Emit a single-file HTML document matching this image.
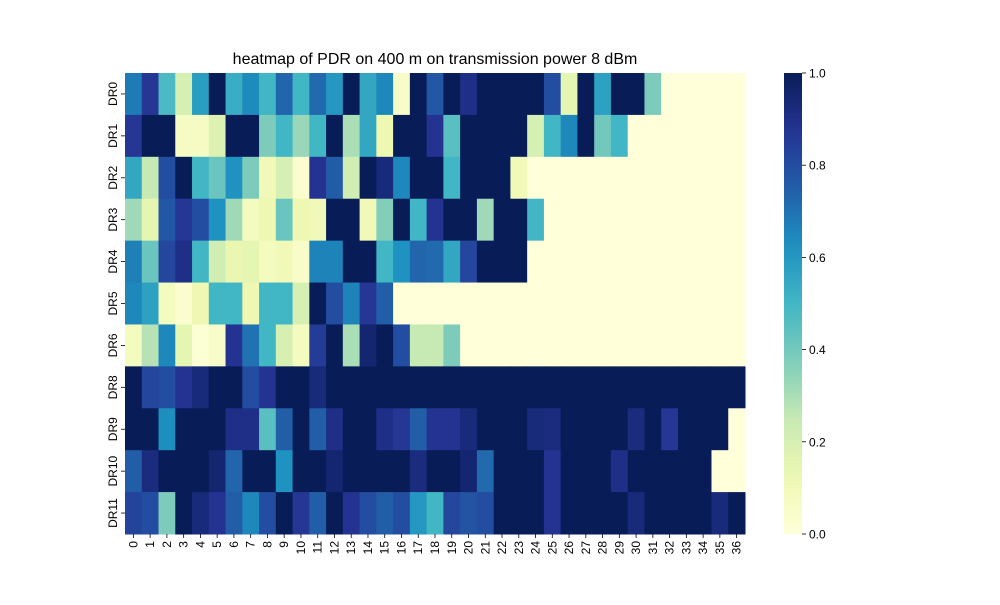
<!DOCTYPE html>
<html><head><meta charset="utf-8"><style>
body{margin:0;background:#fff;font-family:"Liberation Sans","DejaVu Sans",sans-serif;}
svg text{font-family:"Liberation Sans","DejaVu Sans",sans-serif;}
</style></head><body>
<svg id="chart" width="1000" height="600" viewBox="0 0 1000 600" xmlns="http://www.w3.org/2000/svg">
<rect width="1000" height="600" fill="#fff"/>
<text x="435" y="64" text-anchor="middle" font-size="16" fill="#000">heatmap of PDR on 400 m on transmission power 8 dBm</text>
<g id="cells"></g>
<g id="xaxis"></g>
<g id="yaxis"></g>
<defs><linearGradient id="cbg" x1="0" y1="1" x2="0" y2="0"></linearGradient></defs>
<rect x="784" y="73" width="18" height="461" fill="url(#cbg)"/>
<g id="cbaxis"></g>
</svg>
<script>
const rowLabels=["DR0","DR1","DR2","DR3","DR4","DR5","DR6","DR8","DR9","DR10","DR11"];
const colLabels=Array.from({length:37},(_,i)=>String(i));
const cbTicks=[0,0.2,0.4,0.6,0.8,1.0];
const rDR0=[0.68,0.87,0.48,0.2,0.58,1,0.53,0.64,0.5,0.73,0.5,0.72,0.6,1,0.55,0.65,0.05,1,0.77,1,0.9,1,1,1,1,0.8,0.15,1,0.57,1,1,0.38,0,0,0,0,0];
const rDR1=[0.87,1,1,0.07,0.07,0.18,1,1,0.38,0.5,0.33,0.5,1,0.3,0.55,0.12,1,1,0.88,0.45,1,1,1,1,0.2,0.5,0.65,1,0.4,0.5,0,0,0,0,0,0,0];
const rDR2=[0.55,0.25,0.8,1,0.5,0.42,0.62,0.38,0.1,0.2,0.03,0.88,0.76,0.22,1,0.93,0.65,1,1,0.5,1,1,1,0.1,0,0,0,0,0,0,0,0,0,0,0,0,0];
const rDR3=[0.32,0.15,0.77,0.87,0.8,0.62,0.32,0.08,0.12,0.42,0.12,0.1,1,1,0.1,0.37,1,0.5,0.88,1,1,0.32,1,1,0.5,0,0,0,0,0,0,0,0,0,0,0,0];
const rDR4=[0.67,0.42,0.82,0.9,0.5,0.22,0.13,0.15,0.08,0.1,0.05,0.66,0.66,1,1,0.5,0.62,0.73,0.72,0.55,0.82,1,1,1,0,0,0,0,0,0,0,0,0,0,0,0,0];
const rDR5=[0.65,0.57,0.08,0.03,0.12,0.5,0.5,0.12,0.5,0.5,0.2,1,0.8,0.66,0.87,0.75,0,0,0,0,0,0,0,0,0,0,0,0,0,0,0,0,0,0,0,0,0];
const rDR6=[0.08,0.28,0.65,0.15,0.02,0.05,0.88,0.7,0.5,0.2,0.08,0.85,1,0.3,0.95,1,0.8,0.25,0.25,0.38,0,0,0,0,0,0,0,0,0,0,0,0,0,0,0,0,0];
const rDR8=[1,0.82,0.8,0.88,0.93,1,1,0.8,0.88,1,1,0.93,1,1,1,1,1,1,1,1,1,1,1,1,1,1,1,1,1,1,1,1,1,1,1,1,1];
const rDR9=[1,1,0.63,1,1,1,0.9,0.9,0.45,0.75,1,0.75,0.9,1,1,0.9,0.87,0.75,0.88,0.88,0.93,1,1,1,0.93,0.92,1,1,1,1,0.92,1,0.87,1,1,1,0];
const rDR10=[0.75,0.92,1,1,1,0.95,0.73,1,1,0.62,1,1,0.95,1,1,1,1,0.92,1,1,0.95,0.72,1,1,1,0.88,1,1,1,0.9,1,1,1,1,1,0,0];
const rDR11=[0.83,0.8,0.38,1,0.93,0.88,0.75,0.65,0.8,1,0.87,0.75,1,0.88,0.8,0.75,0.8,0.6,0.5,0.82,0.78,0.8,1,1,1,0.88,1,1,1,1,0.93,1,1,1,1,0.93,1];
const rows=[rDR0,rDR1,rDR2,rDR3,rDR4,rDR5,rDR6,rDR8,rDR9,rDR10,rDR11];

const stops=["#ffffd9","#edf8b1","#c7e9b4","#7fcdbb","#41b6c4","#1d91c0","#225ea8","#253494","#081d58"];
function hex(h){return[parseInt(h.slice(1,3),16),parseInt(h.slice(3,5),16),parseInt(h.slice(5,7),16)];}
function cmap(v){v=Math.max(0,Math.min(1,v));const p=v*(stops.length-1);const i=Math.min(stops.length-2,Math.floor(p));const t=p-i;const a=hex(stops[i]),b=hex(stops[i+1]);return"rgb("+a.map((c,k)=>Math.round(c+(b[k]-c)*t)).join(",")+")";}
const X0=125,X1=745,Y0=73,Y1=534;
const cw=(X1-X0)/colLabels.length, rh=(Y1-Y0)/rowLabels.length;
const xs=i=>X0+i*cw, ys=j=>Y0+j*rh;
const NS="http://www.w3.org/2000/svg";
function mk(tag,at,parent){const e=document.createElementNS(NS,tag);for(const k in at)e.setAttribute(k,at[k]);parent.appendChild(e);return e;}
const cells=document.getElementById('cells');
rows.forEach((r,j)=>r.forEach((v,i)=>{
  const e=mk('rect',{x:xs(i),y:ys(j),width:cw+0.5,height:rh+0.5,fill:cmap(v)},cells);
  
  
}));
const xa=document.getElementById('xaxis');
colLabels.forEach((l,i)=>{
  const cx=xs(i)+cw/2;
  mk('line',{x1:cx,y1:Y1,x2:cx,y2:Y1+4,stroke:'#000','stroke-width':0.8},xa);
  const t=mk('text',{x:0,y:0,'font-size':12,'text-anchor':'end',transform:`translate(${cx+4},${Y1+7}) rotate(-90)`},xa);
  t.textContent=l;
  
  
});
const ya=document.getElementById('yaxis');
rowLabels.forEach((l,j)=>{
  const cy=ys(j)+rh/2;
  mk('line',{x1:X0-4,y1:cy,x2:X0,y2:cy,stroke:'#000','stroke-width':0.8},ya);
  const t=mk('text',{x:0,y:0,'font-size':12,'text-anchor':'middle',transform:`translate(${X0-8},${cy}) rotate(-90)`},ya);
  t.textContent=l;
  
  
});
const g=document.getElementById('cbg');
for(let k=0;k<=20;k++){mk('stop',{offset:(k/20),'stop-color':cmap(k/20)},g);}
const cba=document.getElementById('cbaxis');
cbTicks.forEach(v=>{
  const y=Y1-v*(Y1-Y0);
  mk('line',{x1:802,y1:y,x2:806,y2:y,stroke:'#000','stroke-width':0.8},cba);
  const t=mk('text',{x:809,y:y+4.5,'font-size':12},cba);
  t.textContent=v.toFixed(1);
  
  
});
</script>
</body></html>
